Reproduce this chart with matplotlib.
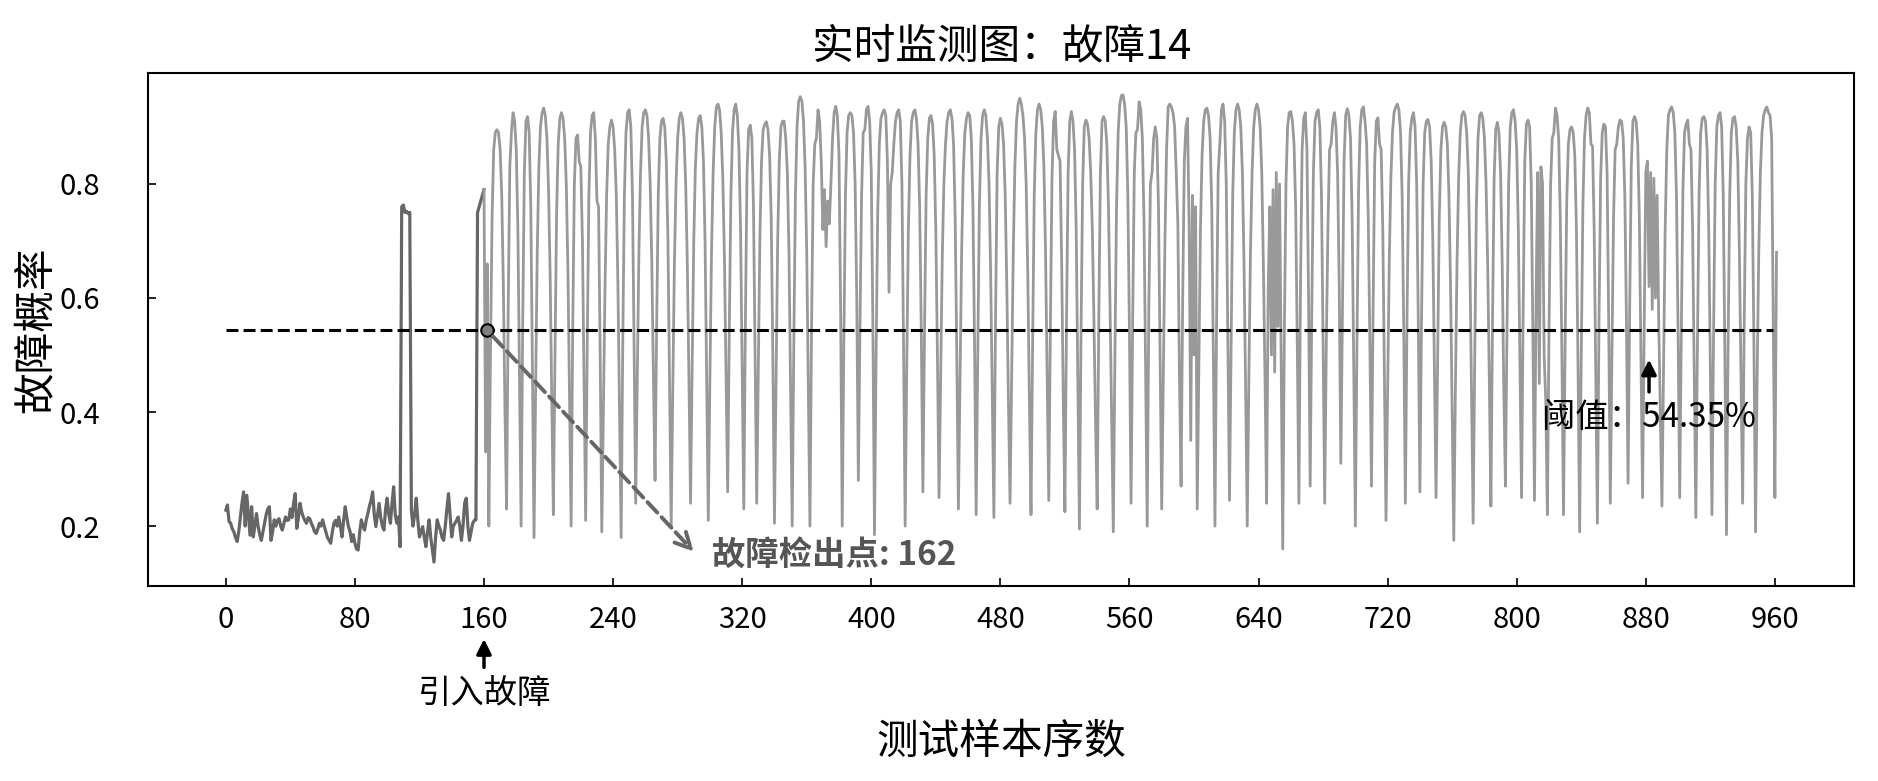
import numpy as np
import matplotlib
matplotlib.use("Agg")
import matplotlib.pyplot as plt

plt.rcParams['font.family'] = ['Noto Sans CJK SC', 'DejaVu Sans']
plt.rcParams['axes.unicode_minus'] = False

threshold = 0.5435
fault_idx = 160
detect_idx = 162
x_ticks = list(range(0, 961, 80))
y_ticks = [0.2, 0.4, 0.6, 0.8]

# 正常段 (样本 0-160)
pre_fault = [
    0.228, 0.237, 0.208, 0.205, 0.195, 0.19, 0.18, 0.173, 0.19, 0.215,
    0.24, 0.26, 0.20, 0.254, 0.22, 0.184, 0.234, 0.181, 0.20, 0.222,
    0.20, 0.185, 0.175, 0.19, 0.205, 0.22, 0.23, 0.234, 0.175, 0.19,
    0.211, 0.20, 0.21, 0.213, 0.20, 0.193, 0.205, 0.216, 0.21, 0.211,
    0.23, 0.215, 0.24, 0.257, 0.196, 0.215, 0.24, 0.225, 0.216, 0.21,
    0.205, 0.215, 0.213, 0.205, 0.199, 0.19, 0.187, 0.195, 0.205, 0.20,
    0.211, 0.20, 0.19, 0.18, 0.175, 0.17, 0.19, 0.205, 0.21, 0.20,
    0.216, 0.20, 0.181, 0.21, 0.234, 0.215, 0.199, 0.19, 0.173, 0.185,
    0.17, 0.16, 0.158, 0.19, 0.211, 0.20, 0.193, 0.21, 0.222, 0.235,
    0.245, 0.26, 0.22, 0.199, 0.22, 0.24, 0.215, 0.20, 0.193, 0.23,
    0.249, 0.22, 0.205, 0.24, 0.269, 0.22, 0.205, 0.216, 0.164, 0.76,
    0.763, 0.75, 0.752, 0.748, 0.75, 0.228, 0.20, 0.22, 0.249, 0.21,
    0.181, 0.19, 0.199, 0.18, 0.164, 0.19, 0.211, 0.18, 0.158, 0.137,
    0.18, 0.211, 0.20, 0.193, 0.18, 0.175, 0.20, 0.23, 0.257, 0.22,
    0.181, 0.20, 0.205, 0.21, 0.216, 0.20, 0.175, 0.20, 0.24, 0.249,
    0.20, 0.175, 0.19, 0.205, 0.21, 0.211, 0.75, 0.76, 0.77, 0.78, 0.79,
]

# 故障段 (样本 160 以后)
post_160_240 = [
    0.79, 0.33, 0.66, 0.20, 0.50, 0.74, 0.86, 0.89, 0.895, 0.89,
    0.86, 0.78, 0.62, 0.40, 0.23, 0.58, 0.83, 0.89, 0.925, 0.91,
    0.86, 0.72, 0.46, 0.20, 0.56, 0.82, 0.91, 0.918, 0.89, 0.76,
    0.48, 0.18, 0.44, 0.68, 0.83, 0.90, 0.925, 0.933, 0.92, 0.88,
    0.79, 0.64, 0.42, 0.22, 0.50, 0.75, 0.87, 0.915, 0.925, 0.915,
    0.88, 0.80, 0.65, 0.42, 0.20, 0.55, 0.80, 0.88, 0.886, 0.84,
    0.83, 0.70, 0.45, 0.21, 0.52, 0.78, 0.89, 0.92, 0.925, 0.88,
    0.77, 0.76, 0.50, 0.19, 0.40, 0.62, 0.78, 0.87, 0.90, 0.912,
]
post_240_320 = [
    0.90, 0.86, 0.78, 0.62, 0.40, 0.18, 0.52, 0.78, 0.89, 0.925,
    0.93, 0.90, 0.78, 0.52, 0.24, 0.46, 0.68, 0.82, 0.90, 0.925,
    0.93, 0.92, 0.88, 0.80, 0.66, 0.46, 0.28, 0.55, 0.78, 0.88,
    0.91, 0.915, 0.90, 0.84, 0.70, 0.45, 0.20, 0.44, 0.66, 0.80,
    0.88, 0.915, 0.925, 0.915, 0.88, 0.80, 0.66, 0.46, 0.24, 0.48,
    0.70, 0.83, 0.89, 0.915, 0.92, 0.90, 0.84, 0.70, 0.46, 0.21,
    0.46, 0.68, 0.82, 0.90, 0.935, 0.94, 0.93, 0.89, 0.81, 0.67,
    0.47, 0.26, 0.54, 0.78, 0.89, 0.93, 0.94, 0.92, 0.86, 0.72,
]
post_320_400 = [
    0.48, 0.23, 0.56, 0.82, 0.895, 0.903, 0.88, 0.76, 0.50, 0.24,
    0.48, 0.71, 0.84, 0.895, 0.905, 0.909, 0.895, 0.85, 0.74, 0.50,
    0.205, 0.46, 0.70, 0.84, 0.90, 0.91, 0.91, 0.88, 0.82, 0.68,
    0.44, 0.20, 0.52, 0.78, 0.90, 0.945, 0.953, 0.945, 0.91, 0.83,
    0.68, 0.44, 0.20, 0.55, 0.80, 0.87, 0.88, 0.93, 0.91, 0.84,
    0.72, 0.79, 0.69, 0.77, 0.73, 0.80, 0.88, 0.925, 0.936, 0.92,
    0.85, 0.58, 0.20, 0.52, 0.78, 0.89, 0.92, 0.925, 0.92, 0.89,
    0.80, 0.60, 0.28, 0.55, 0.78, 0.89, 0.895, 0.93, 0.936, 0.91,
]
post_400_480 = [
    0.82, 0.55, 0.185, 0.50, 0.75, 0.87, 0.915, 0.925, 0.93, 0.92,
    0.84, 0.61, 0.80, 0.82, 0.87, 0.91, 0.925, 0.93, 0.91, 0.80,
    0.52, 0.20, 0.48, 0.72, 0.85, 0.91, 0.925, 0.93, 0.915, 0.87,
    0.76, 0.54, 0.26, 0.54, 0.78, 0.88, 0.915, 0.92, 0.905, 0.85,
    0.72, 0.50, 0.25, 0.46, 0.67, 0.80, 0.87, 0.91, 0.925, 0.93,
    0.915, 0.87, 0.74, 0.50, 0.23, 0.46, 0.68, 0.82, 0.89, 0.915,
    0.925, 0.92, 0.88, 0.76, 0.52, 0.22, 0.50, 0.76, 0.88, 0.92,
    0.93, 0.92, 0.88, 0.80, 0.64, 0.42, 0.215, 0.56, 0.82, 0.90,
]
post_480_560 = [
    0.915, 0.905, 0.87, 0.78, 0.62, 0.42, 0.24, 0.46, 0.68, 0.83,
    0.91, 0.94, 0.95, 0.94, 0.92, 0.88, 0.80, 0.64, 0.42, 0.22,
    0.52, 0.78, 0.89, 0.93, 0.94, 0.93, 0.90, 0.83, 0.68, 0.46,
    0.245, 0.55, 0.81, 0.91, 0.927, 0.86, 0.85, 0.84, 0.66, 0.42,
    0.225, 0.56, 0.82, 0.91, 0.927, 0.91, 0.86, 0.72, 0.46, 0.195,
    0.54, 0.80, 0.90, 0.912, 0.905, 0.88, 0.82, 0.72, 0.56, 0.38,
    0.23, 0.56, 0.82, 0.91, 0.918, 0.91, 0.87, 0.76, 0.58, 0.38,
    0.19, 0.50, 0.76, 0.89, 0.94, 0.955, 0.956, 0.94, 0.90, 0.78,
]
post_560_640 = [
    0.54, 0.24, 0.56, 0.82, 0.89, 0.895, 0.944, 0.93, 0.88, 0.74,
    0.48, 0.20, 0.58, 0.80, 0.82, 0.88, 0.90, 0.88, 0.76, 0.50,
    0.23, 0.46, 0.70, 0.86, 0.935, 0.94, 0.935, 0.925, 0.90, 0.82,
    0.73, 0.46, 0.27, 0.60, 0.84, 0.90, 0.915, 0.72, 0.35, 0.78,
    0.50, 0.76, 0.23, 0.48, 0.72, 0.85, 0.91, 0.93, 0.933, 0.92,
    0.88, 0.76, 0.50, 0.20, 0.56, 0.82, 0.87, 0.93, 0.94, 0.91,
    0.80, 0.52, 0.245, 0.52, 0.78, 0.89, 0.93, 0.94, 0.93, 0.90,
    0.82, 0.66, 0.44, 0.20, 0.46, 0.68, 0.82, 0.90, 0.93, 0.94,
]
post_640_720 = [
    0.93, 0.90, 0.82, 0.66, 0.46, 0.24, 0.62, 0.76, 0.50, 0.79,
    0.47, 0.82, 0.55, 0.80, 0.50, 0.16, 0.54, 0.80, 0.90, 0.925,
    0.927, 0.91, 0.87, 0.76, 0.52, 0.24, 0.62, 0.86, 0.915, 0.925,
    0.86, 0.60, 0.27, 0.58, 0.82, 0.91, 0.925, 0.93, 0.90, 0.78,
    0.52, 0.24, 0.52, 0.72, 0.86, 0.87, 0.91, 0.925, 0.90, 0.82,
    0.62, 0.31, 0.58, 0.84, 0.92, 0.932, 0.92, 0.88, 0.74, 0.48,
    0.20, 0.52, 0.79, 0.90, 0.93, 0.935, 0.91, 0.87, 0.74, 0.52,
    0.27, 0.58, 0.84, 0.91, 0.916, 0.87, 0.86, 0.72, 0.46, 0.21,
]
post_720_800 = [
    0.44, 0.66, 0.81, 0.89, 0.925, 0.935, 0.94, 0.93, 0.89, 0.78,
    0.54, 0.24, 0.56, 0.80, 0.89, 0.915, 0.925, 0.90, 0.80, 0.56,
    0.26, 0.56, 0.80, 0.89, 0.91, 0.913, 0.90, 0.84, 0.70, 0.48,
    0.25, 0.50, 0.74, 0.86, 0.90, 0.908, 0.90, 0.87, 0.78, 0.62,
    0.40, 0.175, 0.44, 0.66, 0.81, 0.89, 0.92, 0.927, 0.92, 0.89,
    0.82, 0.66, 0.44, 0.205, 0.50, 0.76, 0.88, 0.92, 0.925, 0.915,
    0.88, 0.80, 0.66, 0.46, 0.235, 0.56, 0.81, 0.895, 0.908, 0.89,
    0.82, 0.66, 0.44, 0.27, 0.55, 0.80, 0.90, 0.925, 0.93, 0.91,
]
post_800_880 = [
    0.86, 0.72, 0.48, 0.25, 0.58, 0.84, 0.905, 0.912, 0.90, 0.80,
    0.54, 0.245, 0.60, 0.82, 0.45, 0.83, 0.80, 0.50, 0.42, 0.22,
    0.54, 0.80, 0.88, 0.89, 0.933, 0.92, 0.88, 0.74, 0.50, 0.22,
    0.52, 0.77, 0.87, 0.895, 0.90, 0.89, 0.85, 0.72, 0.48, 0.19,
    0.50, 0.76, 0.88, 0.92, 0.933, 0.925, 0.87, 0.866, 0.72, 0.46,
    0.205, 0.56, 0.81, 0.89, 0.905, 0.90, 0.82, 0.56, 0.24, 0.50,
    0.74, 0.86, 0.87, 0.90, 0.912, 0.91, 0.88, 0.78, 0.56, 0.275,
    0.58, 0.83, 0.91, 0.918, 0.91, 0.87, 0.74, 0.50, 0.25, 0.55,
]
post_880_962 = [
    0.82, 0.84, 0.62, 0.82, 0.58, 0.81, 0.60, 0.78, 0.56, 0.40,
    0.235, 0.48, 0.72, 0.86, 0.92, 0.93, 0.935, 0.925, 0.89, 0.78,
    0.54, 0.25, 0.54, 0.79, 0.89, 0.905, 0.912, 0.87, 0.86, 0.72,
    0.46, 0.215, 0.52, 0.78, 0.89, 0.915, 0.918, 0.91, 0.86, 0.72,
    0.48, 0.22, 0.54, 0.80, 0.90, 0.92, 0.925, 0.90, 0.78, 0.50,
    0.185, 0.52, 0.78, 0.89, 0.915, 0.918, 0.90, 0.84, 0.68, 0.46,
    0.24, 0.56, 0.80, 0.88, 0.90, 0.89, 0.78, 0.52, 0.19, 0.46,
    0.68, 0.82, 0.89, 0.92, 0.93, 0.935, 0.925, 0.92, 0.88, 0.55,
    0.25, 0.68,
]

post_fault = np.concatenate([
    post_160_240, post_240_320, post_320_400, post_400_480, post_480_560,
    post_560_640, post_640_720, post_720_800, post_800_880, post_880_962,
])
x_pre = np.arange(len(pre_fault))
x_post = np.arange(fault_idx, fault_idx + len(post_fault))

fig = plt.figure(figsize=(18.78, 7.81), dpi=100)
ax = fig.add_axes([0.079, 0.2497, 0.9082, 0.6572])

ax.plot(x_pre, pre_fault, color='#666666', lw=2.3, zorder=2)
ax.plot(x_post, post_fault, color='#999999', lw=2.0, zorder=2)

# 阈值线
ax.plot([0, 959], [threshold, threshold], color='black', lw=2.2,
        linestyle=(0, (3.9, 1.7)), zorder=4)

# 故障检出点
ax.plot(detect_idx, threshold, 'o', ms=9, mfc='#808080', mec='black',
        mew=1.5, zorder=5)
ax.annotate('', xy=(290, 0.155), xytext=(detect_idx, threshold),
            arrowprops=dict(arrowstyle='->', linestyle='--', color='#666666',
                            lw=2.8, mutation_scale=28, shrinkA=6, shrinkB=0),
            zorder=5)
ax.text(301, 0.148, '故障检出点: 162', fontsize=24, fontweight='bold',
        color='#555555', ha='left', va='center', zorder=6)

# 阈值标注
ax.annotate('阈值：54.35%', xy=(882, 0.492), xytext=(882, 0.39),
            fontsize=24, ha='center', va='center',
            arrowprops=dict(arrowstyle='-|>', color='black', lw=2.5,
                            mutation_scale=22, shrinkA=4, shrinkB=0),
            zorder=6)

# 引入故障
ax.annotate('引入故障', xy=(fault_idx, 0.002), xytext=(fault_idx, -0.093),
            fontsize=24, ha='center', va='center', annotation_clip=False,
            arrowprops=dict(arrowstyle='-|>', color='black', lw=2.5,
                            mutation_scale=22, shrinkA=4, shrinkB=0))

ax.set_xlim(-48, 1009)
ax.set_ylim(0.095, 0.995)
ax.set_xticks(x_ticks)
ax.set_yticks(y_ticks)
ax.set_yticklabels([f'{v:.1f}' for v in y_ticks])
ax.tick_params(axis='both', direction='in', labelsize=21, length=6, width=1.2)
ax.tick_params(axis='y', pad=35)
ax.tick_params(axis='x', pad=14)
for s in ax.spines.values():
    s.set_linewidth(1.5)

ax.set_title('实时监测图：故障14', fontsize=30, pad=10)
ax.set_xlabel('测试样本序数', fontsize=30)
ax.xaxis.set_label_coords(0.5, -0.264)
ax.set_ylabel('故障概率', fontsize=30)
ax.yaxis.set_label_coords(-0.054, 0.5)

fig.savefig('out.png', dpi=100)
